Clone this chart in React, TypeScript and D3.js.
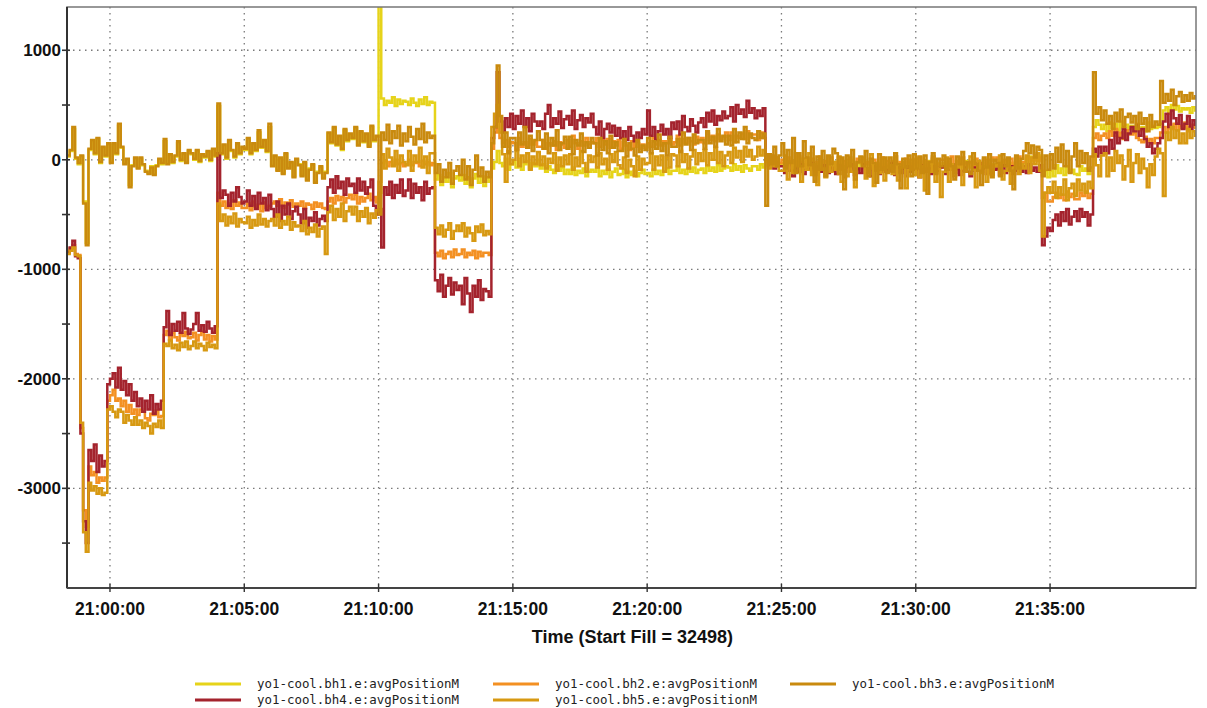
import React from "react";
import * as d3 from "d3";

// BH position monitors, one reading every 6 s starting at 20:58:24
const startClock = "20:58:24";
const sampleSeconds = 6;

const seriesNames = [
  "yo1-cool.bh1.e:avgPositionM",
  "yo1-cool.bh2.e:avgPositionM",
  "yo1-cool.bh3.e:avgPositionM",
  "yo1-cool.bh4.e:avgPositionM",
  "yo1-cool.bh5.e:avgPositionM",
];
const seriesColors = ["#e6d31a", "#f39022", "#c98a0e", "#a4232d", "#d79912"];

// first row: 20:58:24-20:59:54, then one row per minute from 21:00
const bh1 = [
  30, 80, 280, 10, -40, 30, -380, -760, 90, 170, 50, 190, -30, 110, 30, 140,
  -20, 140, 50, 310, 110, -30, 0, -230, -50, 10,
  -70, 10, -50, -100, -120, -60, -130, -50, 0, -40,
  170, -30, 40, -30, 30, 150, -10, 50, -20, 80,
  50, 0, 80, -20, 40, 20, 70, -10, 90, 30,
  490, 50, 130, 10, 170, 80, 20, 140, 50, 110,
  90, 190, 50, 140, 80, 250, 110, 170, 70, 300,
  -50, 30, -90, 10, -120, 50, -70, -30, -150, 0,
  -40, -140, -30, -180, -80, -50, -200, -110, -70, -160,
  -110, 240, 150, 290, 130, 210, 90, 270, 170, 230,
  190, 290, 140, 250, 160, 230, 130, 300, 170, 210,
  1450, 560, 500, 540, 520, 570, 490, 550, 510, 540,
  530, 500, 560, 520, 490, 550, 510, 570, 500, 530,
  520, -180, -140, -230, -160, -200, -120, -250, -170, -150,
  -190, -140, -220, -160, -250, -170, -130, -210, -150, -240,
  -160, -200, -80, -20, 80, -30, -60, 10, -90, -40,
  -20, -70, 10, -90, -40, -10, -80, -30, -60, 0,
  -80, -40, -110, -60, -90, -120, -50, -100, -70, -130,
  -90, -130, -70, -140, -100, -120, -80, -150, -110, -90,
  -110, -70, -150, -100, -130, -90, -160, -110, -80, -140,
  -130, -90, -160, -110, -140, -100, -150, -120, -90, -130,
  -120, -150, -90, -130, -100, -140, -110, -80, -130, -100,
  -100, -60, -120, -90, -130, -80, -110, -70, -120, -90,
  -80, -120, -60, -100, -70, -110, -50, -100, -80, -60,
  -70, -100, -40, -90, -60, -110, -50, -80, -100, -60,
  -60, -90, -40, -70, -20, -60, 10, -50, 0, -40,
  -30, -70, 0, -50, -90, -20, -60, 10, -40, -80,
  -50, -10, -90, -40, -70, -20, -100, -50, -30, -80,
  -20, -60, -40, -100, -30, -70, -10, -60, -90, -40,
  -70, -20, -80, -50, -90, -30, -60, -100, -40, -70,
  -40, -70, -10, -60, -30, -80, -50, -20, -90, -40,
  -60, -20, -90, -40, -70, -10, -80, -50, -30, -70,
  -30, -80, -20, -60, -50, -90, -30, -70, -10, -60,
  -70, -10, -50, -90, -30, -60, -20, -80, -40, -60,
  -40, -80, -20, -60, -90, -30, -70, -40, -10, -60,
  -20, 10, 30, -10, 20, 0, 40, -140, -100, -160,
  -100, -150, -50, -120, -80, -140, -60, -110, -90, -130,
  -140, -60, -100, -80, -130, -70, 300, 360, 320, 280,
  320, 260, 340, 290, 330, 270, 350, 300, 320, 280,
  310, 250, 330, 270, 300, 260, 340, 280, 310, 290,
  300, 330, 450, 480, 420, 500, 460, 490, 440, 470,
  460, 470, 430, 480, 450, 470,
];

const bh2 = [
  -840, -810, -780, -860, -870, -2450, -3200, -3350, -2800, -2880, -2850, -2950, -2900, -2930, -2900, -2200,
  -2150, -2100, -2200, -2180, -2250, -2200, -2300, -2240, -2320, -2280,
  -2330, -2280, -2300, -2360, -2380, -2320, -2330, -2290, -2350, -2340,
  -1600, -1560, -1640, -1580, -1620, -1650, -1590, -1610, -1570, -1630,
  -1620, -1580, -1650, -1600, -1570, -1640, -1600, -1660, -1610, -1640,
  -300, -420, -380, -440, -400, -450, -370, -420, -390, -440,
  -440, -400, -460, -380, -430, -410, -470, -390, -440, -420,
  -400, -380, -420, -360, -440, -390, -410, -370, -430, -400,
  -420, -380, -440, -400, -410, -450, -390, -430, -400, -440,
  -450, -380, -350, -400, -330, -370, -340, -390, -350, -320,
  -360, -320, -400, -340, -380, -350, -310, -370, -340, -390,
  -200, -30, -10, -60, -20, -50, 0, -40, -30, -60,
  -40, 0, -50, -20, -30, -60, -10, -40, -20, -50,
  -30, -850, -880, -830, -900, -860, -840, -890, -820, -870,
  -860, -820, -890, -850, -870, -830, -900, -840, -880, -850,
  -850, -870, 100, 250, 400, 200, 150, 180, 120, 160,
  150, 100, 200, 120, 160, 110, 190, 140, 170, 120,
  120, 180, 100, 150, 130, 170, 90, 160, 140, 110,
  180, 120, 220, 150, 100, 170, 130, 200, 140, 160,
  150, 200, 120, 180, 140, 190, 110, 170, 130, 180,
  100, 160, 130, 90, 170, 120, 150, 100, 140, 110,
  150, 120, 200, 140, 180, 130, 170, 150, 190, 140,
  160, 220, 130, 190, 150, 200, 170, 140, 210, 160,
  200, 150, 240, 180, 220, 170, 230, 190, 210, 250,
  180, 250, 160, 220, 200, 240, 190, 260, 210, 230,
  230, 180, 250, 200, 50, -20, 40, -10, 20, -30,
  0, -60, 20, -40, -10, -50, 30, -20, -60, 10,
  -50, 10, -70, -20, 30, -40, -10, -60, 20, -30,
  -30, 20, -60, -10, -50, 0, -40, -70, 10, -20,
  10, -40, -20, -70, 0, -30, -50, 20, -60, -10,
  -60, -10, 30, -40, -20, -50, 10, -30, -70, 0,
  -30, 20, -50, -10, -70, -20, 10, -40, -60, 0,
  0, -40, -20, 30, -60, -10, -50, 20, -30, -40,
  -20, -70, 10, -30, -50, 0, -40, -60, 20, -10,
  20, -30, -60, 0, -40, 10, -50, -20, 30, -30,
  -20, 30, -50, 0, 40, -10, 20, -350, -300, -380,
  -380, -340, -300, -350, -320, -370, -290, -340, -310, -360,
  -360, -300, -330, -290, -350, -310, 200, 240, 180, 220,
  240, 200, 260, 220, 280, 210, 250, 190, 270, 230,
  230, 250, 200, 180, 160, 210, 170, 190, 150, 200,
  200, 250, 300, 250, 320, 280, 330, 270, 310, 290,
  340, 260, 300, 320, 290, 310,
];

const bh3 = [
  40, 90, 300, 20, -30, 40, -400, -780, 100, 180, 60, 200, -20, 120, 40, 150,
  -30, 150, 60, 330, 120, -40, 10, -250, -60, 20,
  -80, 20, -40, -110, -130, -70, -140, -60, 10, -30,
  190, -40, 50, -20, 40, 170, 0, 60, -30, 90,
  60, 10, 90, -10, 50, 30, 80, 0, 100, 40,
  515, 60, 140, 20, 180, 90, 30, 150, 60, 120,
  100, 200, 60, 150, 90, 270, 120, 180, 80, 330,
  -60, 40, -100, 20, -130, 60, -80, -20, -160, 10,
  -50, -150, -20, -190, -90, -40, -210, -120, -60, -170,
  -120, 250, 160, 300, 140, 220, 100, 280, 180, 240,
  200, 300, 130, 260, 170, 240, 120, 310, 180, 220,
  -500, 250, 180, 320, 150, 260, 200, 310, 130, 240,
  170, 300, 210, 140, 280, 190, 330, 160, 250, 200,
  220, -120, -40, -200, -90, -160, -30, -220, -100, -60,
  -140, 0, -180, -60, -230, -90, 40, -150, -70, -200,
  -110, -160, 150, 300, 860, 400, 120, 250, 60, 200,
  200, 90, 250, 140, 300, 110, 220, 80, 180, 260,
  180, 100, 240, 60, 200, 130, 270, 90, 150, 210,
  100, 210, 50, 180, 130, 240, 70, 160, 110, 200,
  150, 40, 200, 90, 170, 60, 220, 110, 160, 80,
  80, 190, 30, 150, 100, 40, 180, 70, 130, 90,
  200, 60, 170, 100, 230, 80, 150, 40, 210, 120,
  120, 190, 70, 250, 140, 200, 90, 230, 150, 180,
  180, 100, 260, 150, 210, 120, 280, 170, 220, 140,
  220, 130, 280, 160, 250, 190, 300, 150, 240, 200,
  180, 260, 200, 240, -420, 50, -40, 120, -60, 40,
  150, -80, 90, -30, 200, -120, 60, -60, 170, 20,
  -50, 120, -200, 30, -90, 80, -150, 40, -40, 100,
  60, -130, 20, -270, 40, -60, 90, -180, -20, 30,
  -60, 80, -150, 10, -30, -210, 50, -90, 20, -120,
  20, -110, 60, -40, -260, 10, -70, 40, -150, 50,
  -80, 30, -120, 40, -310, -20, 60, -130, 10, -60,
  40, -90, 10, -60, -180, 30, -40, 70, -110, -20,
  -130, 60, -40, -100, -230, 20, -70, 50, -160, 0,
  -30, -150, 50, -60, 20, -100, -270, 40, -80, 10,
  80, 150, 60, 130, 20, 120, 90, -150, 40, -90,
  50, -80, 110, -20, 140, -60, 80, -120, 30, 150,
  -60, 80, -30, 60, -100, 30, 800, 420, 480, 360,
  450, 330, 400, 280, 430, 350, 460, 300, 390, 420,
  340, 400, 280, 430, 330, 380, 260, 410, 300, 350,
  320, 720, 520, 600, 540, 640, 500, 580, 620, 530,
  590, 540, 610, 560, 580, 550,
];

const bh4 = [
  -850, -800, -740, -880, -900, -2500, -3300, -3500, -2650, -2750, -2600, -2850, -2700, -2800, -2750, -2050,
  -2000, -1950, -2080, -1900, -2100, -2020, -2150, -2050, -2200, -2120,
  -2250, -2180, -2300, -2200, -2280, -2150, -2320, -2230, -2280, -2200,
  -1530, -1380, -1600, -1500, -1560, -1480, -1580, -1400, -1540, -1590,
  -1550, -1500, -1400, -1560, -1510, -1570, -1480, -1540, -1580, -1520,
  60, -350, -280, -320, -420, -300, -380, -250, -340, -400,
  -380, -280, -420, -330, -450, -300, -400, -350, -460, -320,
  -450, -520, -380, -560, -420, -500, -400, -540, -470, -430,
  -500, -580, -450, -620, -530, -560, -480, -600, -540, -510,
  -560, -250, -180, -300, -150, -260, -200, -320, -170, -240,
  -220, -300, -170, -280, -200, -310, -250, -180, -420, -500,
  -450, -800, -250, -320, -200, -350, -230, -300, -180, -330,
  -280, -180, -350, -220, -300, -250, -370, -200, -310, -260,
  -250, -1100, -1200, -1050, -1250, -1150, -1080, -1230, -1120, -1190,
  -1150, -1320, -1080, -1220, -1390, -1150, -1250, -1100, -1280, -1180,
  -1200, -1250, 200, 300, 800, 350, 250, 380, 300, 420,
  280, 400, 330, 450, 300, 380, 260, 420, 350, 310,
  350, 280, 420, 500, 300, 380, 330, 440, 290, 370,
  400, 320, 450, 280, 360, 410, 300, 380, 340, 420,
  300, 230, 350, 200, 280, 330, 250, 310, 220, 290,
  200, 260, 180, 300, 220, 170, 250, 200, 280, 230,
  450, 220, 300, 180, 260, 320, 230, 280, 200, 340,
  280, 350, 230, 400, 300, 260, 370, 310, 250, 340,
  380, 300, 430, 350, 450, 320, 400, 360, 440, 380,
  400, 480, 350, 500, 420, 460, 390, 540, 430, 470,
  380, 450, 400, 470, 0, -50, 30, -80, -20, -60,
  -60, -120, -20, -100, -150, -70, -110, -40, -130, -90,
  -80, -30, -140, -60, -110, -90, -50, -120, -70, -100,
  -130, -50, -90, -160, -70, -110, -40, -140, -80, -120,
  -40, -120, -80, -150, -60, -100, -130, -70, -110, -90,
  -100, -30, -140, -70, -120, -80, -150, -60, -110, -90,
  -90, -160, -50, -110, -80, -130, -60, -120, -100, -70,
  -60, -130, -90, -40, -120, -80, -140, -100, -70, -110,
  -150, -70, -100, -30, -110, -80, -130, -60, -120, -90,
  -80, -140, -50, -120, -90, -60, -130, -100, -70, -110,
  -60, -120, -40, -100, -70, -110, -50, -780, -700, -620,
  -650, -550, -500, -600, -480, -560, -450, -590, -520, -470,
  -560, -450, -520, -480, -600, -500, 100, 30, 120, 60,
  120, 60, 180, 100, 250, 150, 200, 280, 180, 240,
  300, 260, 320, 220, 280, 190, 120, 150, 60, 100,
  150, 200, 350, 420, 300, 450, 380, 330, 410, 280,
  330, 400, 280, 360, 320, 350,
];

const bh5 = [
  -860, -830, -800, -870, -880, -2400, -3400, -3580, -2950, -3020, -2980, -3050, -3000, -3060, -3040, -2280,
  -2250, -2300, -2350, -2280, -2300, -2400, -2330, -2380, -2420, -2350,
  -2420, -2380, -2450, -2400, -2430, -2500, -2410, -2440, -2380, -2450,
  -1680, -1700, -1650, -1720, -1690, -1740, -1670, -1710, -1660, -1730,
  -1700, -1660, -1720, -1680, -1700, -1740, -1670, -1710, -1690, -1720,
  -400, -560, -500, -600, -520, -580, -490, -610, -540, -570,
  -580, -520, -620, -550, -600, -500, -590, -540, -610, -560,
  -540, -600, -500, -620, -560, -590, -520, -640, -570, -610,
  -600, -650, -560, -680, -620, -660, -590, -700, -630, -610,
  -860, -480, -420, -550, -450, -520, -400, -560, -470, -430,
  -500, -430, -560, -470, -520, -440, -580, -490, -530, -460,
  -300, 50, -80, 100, 20, -60, 80, -100, 40, -20,
  -50, 80, -100, 40, -20, 110, -70, 30, -120, 60,
  60, -620, -680, -600, -700, -640, -580, -720, -650, -600,
  -650, -580, -700, -620, -670, -740, -610, -660, -590, -690,
  -650, -680, 300, 420, 500, 250, 50, -200, 80, -40,
  0, 80, -60, 40, -20, 60, -90, 30, -40, 70,
  -50, 30, -80, 10, -30, 60, -100, 20, -60, 40,
  -40, 50, -90, 20, -60, 80, -30, -110, 40, -20,
  30, -70, 60, -40, 10, -90, 50, -20, 70, -50,
  -80, 20, -120, 0, -60, -150, 30, -90, 10, -40,
  -30, 60, -90, 30, -50, 40, -110, 20, -70, 50,
  40, -60, 80, -20, 50, -80, 30, 90, -40, 60,
  -10, 90, -50, 60, 0, 110, -30, 70, -60, 40,
  70, -30, 110, 20, 80, -20, 120, 30, 90, 0,
  30, 120, 40, 90, 0, -80, 40, -60, 20, -100,
  -100, 40, -180, -20, -120, 60, -60, -200, 10, -90,
  60, -140, -40, -230, 10, -80, -160, 30, -110, -20,
  -90, 30, -200, -60, -150, 20, -110, -250, -30, 0,
  20, -170, -80, 50, -240, -40, -120, 10, -190, -60,
  -50, -130, 30, -190, -70, -20, -260, -90, 0, -140,
  10, -160, -60, -280, -20, -110, 30, -200, -80, -340,
  -110, 20, -200, -40, -150, -70, 10, -230, -90, -30,
  30, -90, -250, -10, -120, -60, -200, 0, -140, -50,
  -60, 40, -180, -100, 0, -220, -70, 20, -130, -40,
  -80, 40, -120, 20, -40, 60, -100, -700, -300, -250,
  -300, -200, -350, -250, -320, -180, -370, -260, -220, -330,
  -180, -280, -220, -300, -200, -260, 50, -50, -150, 40,
  60, -150, 20, -100, 80, -30, 40, -180, -60, 90,
  -200, -30, 50, -120, 10, -80, -250, -40, -140, 30,
  100, 60, -330, 250, 180, 300, 200, 270, 150, 240,
  150, 280, 200, 260, 220, 250,
];

const xTickLabels = [
  "21:00:00", "21:05:00", "21:10:00", "21:15:00",
  "21:20:00", "21:25:00", "21:30:00", "21:35:00",
];
const yMajorTicks = [-3000, -2000, -1000, 0, 1000];
const yMinorTicks = [-3500, -2500, -1500, -500, 500];
const xDomainClock = ["20:58:24", "21:40:26"];
const yDomain = [-3910, 1395];
const axisTitle = "Time (Start Fill = 32498)";

// draw order: yellow first, goldenrods on top
const drawOrder = [0, 1, 3, 4, 2];
const allSeries = [bh1, bh2, bh3, bh4, bh5];

const W = 1207;
const H = 708;
const plot = { left: 67, right: 1196, top: 7, bottom: 588 };
const fontSans = "'Liberation Sans', Arial, Helvetica, sans-serif";

export default function App() {
  const parse = d3.timeParse("%H:%M:%S");
  const t0 = parse(startClock) as Date;
  const x = d3
    .scaleTime()
    .domain(xDomainClock.map((s) => parse(s) as Date))
    .range([plot.left, plot.right]);
  const y = d3.scaleLinear().domain(yDomain).range([plot.bottom, plot.top]);

  const sampleTime = (i: number) => d3.timeSecond.offset(t0, i * sampleSeconds);
  const line = d3
    .line<number>()
    .x((_, i) => x(sampleTime(i)))
    .y((d) => y(d))
    .curve(d3.curveStepAfter);

  const xTicks = xTickLabels.map((s) => parse(s) as Date);
  const legendCols = [195, 493, 790];
  const legendRows = [684, 700];

  return (
    <svg
      width={W}
      height={H}
      style={{ position: "absolute", left: 0, top: 0, background: "#fff" }}
    >
      <defs>
        <clipPath id="plotClip">
          <rect
            x={plot.left}
            y={plot.top}
            width={plot.right - plot.left}
            height={plot.bottom - plot.top}
          />
        </clipPath>
      </defs>
      <rect x={0} y={0} width={W} height={H} fill="#fff" />

      {/* dotted grid */}
      <g stroke="#7a7a7a" strokeWidth={1.3} strokeDasharray="1.5 4.5">
        {yMajorTicks.map((v) => (
          <line key={"gy" + v} x1={plot.left} x2={plot.right} y1={y(v)} y2={y(v)} />
        ))}
        {xTicks.map((d, i) => (
          <line key={"gx" + i} x1={x(d)} x2={x(d)} y1={plot.top} y2={plot.bottom} />
        ))}
      </g>

      {/* series */}
      <g clipPath="url(#plotClip)" fill="none">
        {drawOrder.map((k) => (
          <path
            key={seriesNames[k]}
            d={line(allSeries[k]) || ""}
            stroke={seriesColors[k]}
            strokeWidth={2.5}
            strokeLinejoin="miter"
          />
        ))}
      </g>

      {/* frame */}
      <rect
        x={plot.left}
        y={plot.top}
        width={plot.right - plot.left}
        height={plot.bottom - plot.top}
        fill="none"
        stroke="#777"
        strokeWidth={1.5}
      />
      <line x1={plot.left} x2={plot.left} y1={plot.top} y2={plot.bottom} stroke="#333" strokeWidth={2} />
      <line x1={plot.left} x2={plot.right} y1={plot.bottom} y2={plot.bottom} stroke="#444" strokeWidth={2} />

      {/* y axis ticks and labels */}
      <g stroke="#333" strokeWidth={1.6}>
        {yMajorTicks.concat(yMinorTicks).map((v) => (
          <line key={"ty" + v} x1={plot.left - 5} x2={plot.left + 3} y1={y(v)} y2={y(v)} />
        ))}
      </g>
      <g fontFamily={fontSans} fontWeight="bold" fontSize={17} fill="#111" textAnchor="end">
        {yMajorTicks.map((v) => (
          <text key={"ly" + v} x={plot.left - 6} y={y(v) + 6}>
            {v}
          </text>
        ))}
      </g>

      {/* x axis ticks and labels */}
      <g stroke="#333" strokeWidth={1.4}>
        {xTicks.map((d, i) => (
          <line key={"tx" + i} x1={x(d)} x2={x(d)} y1={plot.bottom - 4} y2={plot.bottom + 4} />
        ))}
      </g>
      <g fontFamily={fontSans} fontWeight="bold" fill="#111" textAnchor="middle">
        {xTicks.map((d, i) => (
          <text key={"lx" + i} x={x(d)} y={615} fontSize={17.5}>
            {xTickLabels[i]}
          </text>
        ))}
        <text x={(plot.left + plot.right) / 2 + 1} y={643} fontSize={18}>
          {axisTitle}
        </text>
      </g>

      {/* legend */}
      <g>
        {seriesNames.map((name, k) => {
          const cx = legendCols[k % 3];
          const cy = legendRows[Math.floor(k / 3)];
          return (
            <g key={"lg" + k}>
              <line x1={cx} x2={cx + 46} y1={cy} y2={cy} stroke={seriesColors[k]} strokeWidth={3} />
              <text
                x={cx + 62}
                y={cy + 4}
                fontFamily="'DejaVu Sans Mono', 'Liberation Mono', monospace"
                fontSize={12}
                fill="#222"
                textLength={202}
                lengthAdjust="spacingAndGlyphs"
              >
                {name}
              </text>
            </g>
          );
        })}
      </g>
    </svg>
  );
}
